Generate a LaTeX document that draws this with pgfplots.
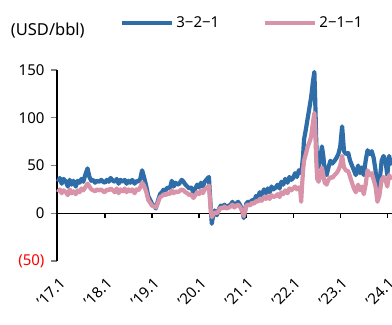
\documentclass[border=0pt]{standalone}
\usepackage{pgfplots}
\usepackage{pgfplotstable}
\pgfplotsset{compat=1.18}
\usepackage{fontspec}
\setmainfont{Noto Sans}
\definecolor{cblue}{HTML}{2E6DA8}
\definecolor{cpink}{HTML}{D893A8}
\pgfplotstableread{
x a b
0.00 33 22
0.04 37 25
0.08 31 21
0.12 36 24
0.17 33 22
0.21 28 19
0.25 35 25
0.29 30 21
0.33 34 23
0.38 28 20
0.42 34 24
0.46 32 22
0.50 36 26
0.54 33 24
0.58 40 27
0.63 47 31
0.67 38 28
0.71 34 25
0.75 35 24
0.79 32 23
0.83 34 25
0.88 33 24
0.92 35 25
0.96 33 23
1.00 32 22
1.04 35 25
1.08 33 24
1.12 37 26
1.17 34 24
1.21 33 22
1.25 36 26
1.29 31 21
1.33 35 25
1.38 33 23
1.42 35 26
1.46 31 22
1.50 34 25
1.54 32 23
1.58 35 25
1.63 31 21
1.67 34 25
1.71 33 24
1.75 36 27
1.79 45 32
1.83 38 29
1.88 28 22
1.92 18 14
1.96 14 11
2.00 10 8
2.04 8 7
2.08 5 6
2.12 12 10
2.17 20 17
2.21 22 18
2.25 25 20
2.29 24 19
2.33 27 21
2.38 26 20
2.42 34 24
2.46 28 21
2.50 32 23
2.54 30 22
2.58 31 23
2.63 35 25
2.67 33 24
2.71 30 22
2.75 28 21
2.79 26 19
2.83 27 20
2.88 22 16
2.92 26 19
2.96 30 22
3.00 27 20
3.04 32 24
3.08 28 21
3.12 33 25
3.17 36 27
3.21 38 29
3.23 20 15
3.25 5 3
3.27 -11 -4
3.29 -5 -2
3.33 3 1
3.38 -2 0
3.42 4 3
3.46 8 6
3.50 7 5
3.54 9 7
3.58 6 5
3.63 8 6
3.67 9 7
3.71 12 9
3.75 7 6
3.79 10 8
3.83 12 9
3.88 8 6
3.92 2 2
3.95 -5 -3
3.98 3 3
4.00 10 8
4.04 12 9
4.08 10 8
4.12 14 11
4.17 13 10
4.21 18 13
4.25 17 12
4.29 22 15
4.33 19 13
4.38 25 17
4.42 21 15
4.46 26 18
4.50 22 15
4.54 28 19
4.58 25 17
4.63 27 18
4.67 30 20
4.71 26 17
4.75 33 22
4.79 30 20
4.83 36 24
4.88 32 21
4.92 38 26
4.96 35 24
5.00 37 26
5.04 42 28
5.08 38 25
5.12 45 27
5.15 44 24
5.17 42 12
5.19 50 30
5.21 60 45
5.23 77 55
5.27 88 62
5.31 100 70
5.35 112 75
5.38 121 80
5.42 138 95
5.45 148 105
5.47 115 85
5.49 75 55
5.51 52 36
5.54 48 33
5.58 58 40
5.61 70 48
5.64 60 40
5.67 45 32
5.71 40 30
5.75 48 35
5.79 55 38
5.83 52 37
5.88 55 40
5.92 58 42
5.96 62 45
6.00 70 50
6.04 91 60
6.08 65 48
6.12 62 45
6.17 63 44
6.21 55 38
6.25 50 32
6.29 45 26
6.33 40 22
6.38 50 30
6.42 42 24
6.46 48 28
6.50 40 20
6.54 55 30
6.58 66 45
6.63 62 40
6.67 65 42
6.71 58 35
6.75 45 28
6.79 15 12
6.83 30 18
6.88 55 35
6.92 60 38
6.96 55 35
7.00 40 28
7.04 60 40
7.08 50 35
}\datatab
\begin{document}
\begin{tikzpicture}
\begin{axis}[
  scale only axis,
  width=335pt, height=191pt,
  xmin=-0.02, xmax=7.1,
  ymin=-50, ymax=150,
  axis y line*=left,
  axis x line*=bottom,
  x axis line style={draw=none},
  y axis line style={line width=1.2pt},
  ytick={-50,0,50,100,150},
  yticklabels={\textcolor{red}{(50)},0,50,100,150},
  y tick label style={xshift=-3pt},
  xtick={0,1,2,3,4,5,6,7},
  xticklabels={{'}17.1,{'}18.1,{'}19.1,{'}20.1,{'}21.1,{'}22.1,{'}23.1,{'}24.1},
  x tick label style={rotate=45, anchor=east, yshift=-13pt, xshift=-3pt},
  xtick style={draw=none},
  ytick style={line width=1.2pt},
  tick align=outside,
  major tick length=6pt,
  tick label style={font=\fontsize{15}{17}\selectfont},
  /pgf/number format/assume math mode=true,
  clip=false,
  legend columns=2,
  legend style={draw=none, fill=none, at={(0.188,1.246)}, anchor=west,
    font=\fontsize{15}{17}\selectfont, inner sep=0pt,
    /tikz/every even column/.append style={column sep=42pt}},
  legend image code/.code={\draw[#1] (0pt,0pt) -- (50pt,0pt);},
  legend cell align=left,
]
\coordinate (bbsw) at (rel axis cs:-0.170,-0.33);
\coordinate (bbne) at (rel axis cs:1.0,1.3665);
\draw[line width=1.2pt] (axis cs:-0.02,0) -- (axis cs:7.1,0);
\pgfplotsinvokeforeach{1,2,3,4,5,6,7}{
  \draw[line width=1.2pt] (axis cs:#1,0) -- ([yshift=-5pt]axis cs:#1,0);
}
\addplot[cblue, line width=4.2pt, line join=round] table[x=x,y=a]{\datatab};
\addlegendentry{3−2−1}
\addplot[cpink, line width=4.2pt, line join=round] table[x=x,y=b]{\datatab};
\addlegendentry{2−1−1}
\node[anchor=west, font=\fontsize{16.5}{18}\selectfont] at (rel axis cs:-0.148,1.209) {(USD/bbl)};
\end{axis}
\pgfresetboundingbox
\path[use as bounding box] (bbsw) rectangle (bbne);
\end{tikzpicture}
\end{document}
